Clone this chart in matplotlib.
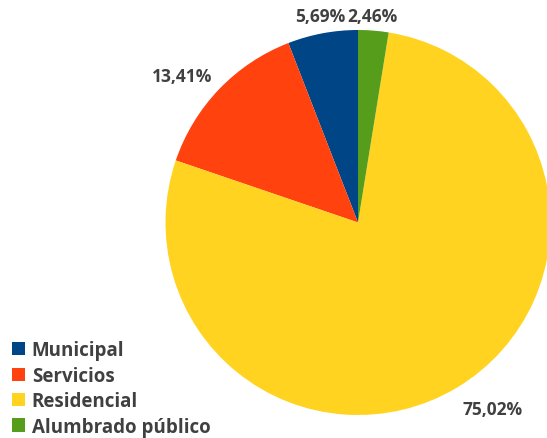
import matplotlib.pyplot as plt

categories = ["Municipal", "Servicios", "Residencial", "Alumbrado público"]
shares = [5.69, 13.41, 75.02, 2.46]
colors = ["#004586", "#ff420e", "#ffd320", "#579d1c"]

# label anchor points (pixels, origin bottom-left) for each slice
label_xy = [(320, 422), (182, 362), (493, 29), (372, 422)]

W, H = 547, 439
fig = plt.figure(figsize=(W / 100, H / 100), dpi=100)
ax = fig.add_axes([0, 0, 1, 1])

wedges, _ = ax.pie(shares, colors=colors, startangle=90, counterclock=True,
                   center=(358, H - 223.5), radius=192.5,
                   wedgeprops=dict(linewidth=0), frame=True)
ax.set_xlim(0, W)
ax.set_ylim(0, H)
ax.axis("off")

for val, (x, y) in zip(shares, label_xy):
    txt = ("%.2f%%" % val).replace(".", ",")
    ax.text(x, y, txt, ha="center", va="center", fontsize=12.5,
            fontweight="bold", color="#404040", family="Open Sans")

leg = fig.legend(wedges, categories, loc="upper left", bbox_to_anchor=(0.005, 0.244),
                 frameon=False, handlelength=0.7, handleheight=0.7,
                 handletextpad=0.35, labelspacing=0.29, borderpad=0,
                 prop=dict(family="Open Sans", weight="bold", size=13.5))
for t in leg.get_texts():
    t.set_color("#404040")

fig.savefig("out.png", dpi=100)
